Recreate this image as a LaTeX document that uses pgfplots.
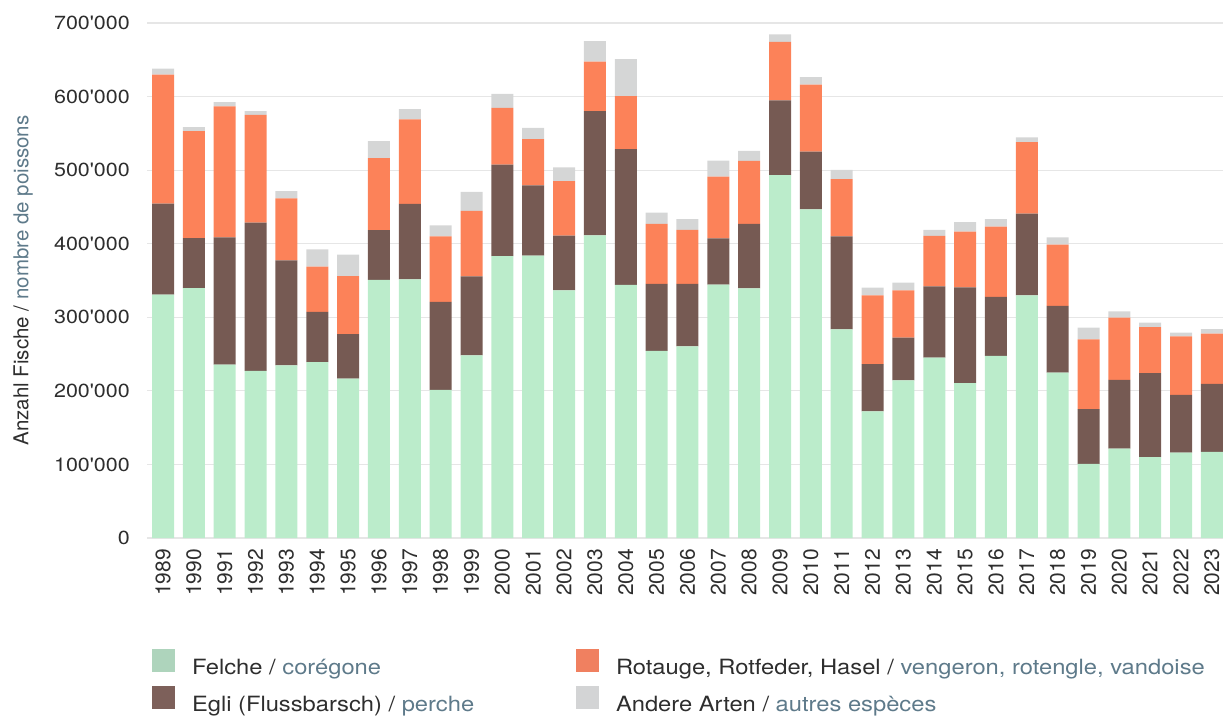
\documentclass[border=0pt]{standalone}
\usepackage{pgfplots}
\pgfplotsset{compat=1.18}
\usepackage{pgfplotstable}
\usepackage{fontspec}
\setmainfont{TeX Gyre Heros}[Ligatures=TeXOff, FakeStretch=1.13]
\newfontfamily\plainfont{TeX Gyre Heros}[Ligatures=TeXOff]

\definecolor{cF}{HTML}{BBECCB}
\definecolor{cE}{HTML}{765A53}
\definecolor{cR}{HTML}{FC8259}
\definecolor{cA}{HTML}{D5D6D6}
\definecolor{lF}{HTML}{AED4BC}
\definecolor{lE}{HTML}{7D605A}
\definecolor{lR}{HTML}{F08060}
\definecolor{lA}{HTML}{D3D4D5}
\definecolor{txt}{HTML}{2E2E2E}
\definecolor{fr}{HTML}{5E7A8A}
\definecolor{gridc}{HTML}{E6E6E6}

\pgfplotstableread{
x year F E R A
0 1989 330800 123700 175300 8200
1 1990 339700 68000 145300 5600
2 1991 235700 172900 178100 5600
3 1992 227300 201500 146200 5100
4 1993 234800 142400 84400 9800
5 1994 239000 68400 61400 23400
6 1995 216500 60500 79100 29100
7 1996 351000 67500 97900 23000
8 1997 351500 102600 114800 14000
9 1998 201500 119500 89000 15000
10 1999 248400 107300 89000 25800
11 2000 383300 124200 77300 18800
12 2001 383800 95600 62800 15400
13 2002 336500 74500 74000 18700
14 2003 411400 168700 67500 27700
15 2004 344000 184600 72100 50200
16 2005 254500 90900 81500 15500
17 2006 260500 84900 73500 14600
18 2007 344400 62800 83900 22000
19 2008 339300 87600 85800 13500
20 2009 493400 101300 79600 10300
21 2010 446600 78700 90900 10300
22 2011 283500 126500 77800 12700
23 2012 172000 64200 93700 10300
24 2013 214200 58100 64200 10700
25 2014 245100 97000 68400 8400
26 2015 210400 130300 75900 12600
27 2016 247400 80200 95500 10400
28 2017 329900 111100 97000 6500
29 2018 224900 90500 83400 9800
30 2019 100700 74600 94600 15900
31 2020 121400 93700 84300 8500
32 2021 110100 113900 62800 6100
33 2022 116200 78300 79600 5200
34 2023 117200 92300 68400 6100
}\data

\begin{document}
\begin{tikzpicture}
\useasboundingbox (-147pt,-177pt) rectangle (1076pt,538pt);
\begin{axis}[
  scale only axis, width=1076pt, height=515pt,
  ybar stacked, bar width=22pt,
  xmin=-0.52, xmax=34.36, ymin=0, ymax=700000,
  xtick={0,...,34},
  xticklabels={1989,1990,1991,1992,1993,1994,1995,1996,1997,1998,1999,2000,2001,2002,2003,2004,2005,2006,2007,2008,2009,2010,2011,2012,2013,2014,2015,2016,2017,2018,2019,2020,2021,2022,2023},
  ytick={0,100000,200000,300000,400000,500000,600000,700000},
  yticklabels={0,100'000,200'000,300'000,400'000,500'000,600'000,700'000},
  scaled y ticks=false,
  ymajorgrids, grid style={gridc, line width=1.2pt},
  axis line style={draw=none},
  major tick length=0pt,
  yticklabel style={font=\fontsize{19}{22}\selectfont, text=txt, anchor=east, inner sep=0pt},
  yticklabel shift=17pt,
  xticklabel style={font=\plainfont\fontsize{21}{24}\selectfont, text=txt, rotate=90, anchor=east, inner sep=0pt},
  xticklabel shift=11pt,
  ylabel={\plainfont\fontsize{20.5}{24}\selectfont Anzahl Fische / \textcolor{fr}{nombre de poissons}},
  ylabel style={at={(axis description cs:-0.1152,0.5)}, anchor=center, text=txt, inner sep=0pt},
  legend columns=2,
  legend cell align=left,
  legend style={at={(axis description cs:0.00465,-0.2155)}, anchor=north west, draw=none, fill=none,
    inner sep=0pt, outer sep=0pt, column sep=17pt, row sep=9.5pt,
    font=\fontsize{21}{24}\selectfont, text=txt, nodes={inner sep=0pt}},
  legend image code/.code={\fill[#1] (0pt,-4pt) rectangle (23pt,19pt);},
]
\addplot[fill=cF, draw=none, forget plot] table[x=x, y=F] {\data};
\addplot[fill=cE, draw=none, forget plot] table[x=x, y=E] {\data};
\addplot[fill=cR, draw=none, forget plot] table[x=x, y=R] {\data};
\addplot[fill=cA, draw=none, forget plot] table[x=x, y=A] {\data};
\addlegendimage{fill=lF, draw=none}
\addlegendentry{\makebox[367pt][l]{Felche / \textcolor{fr}{corégone}}}
\addlegendimage{fill=lR, draw=none}
\addlegendentry{Rotauge, Rotfeder, Hasel / \textcolor{fr}{vengeron, rotengle, vandoise}}
\addlegendimage{fill=lE, draw=none}
\addlegendentry{\makebox[367pt][l]{Egli (Flussbarsch) / \textcolor{fr}{perche}}}
\addlegendimage{fill=lA, draw=none}
\addlegendentry{Andere Arten / \textcolor{fr}{autres espèces}}
\end{axis}
\end{tikzpicture}
\end{document}
